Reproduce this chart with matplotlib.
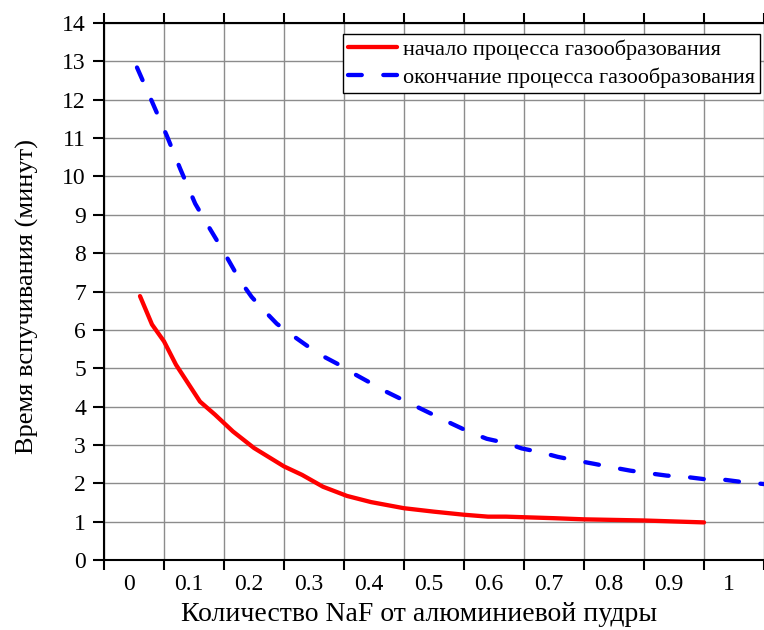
import numpy as np
import matplotlib
matplotlib.use('Agg')
import matplotlib.pyplot as plt

plt.rcParams['font.family'] = ['Liberation Serif', 'DejaVu Serif']

# NaF amount (fraction of aluminium powder) vs. foaming time, minutes
start_x = [0.01, 0.03, 0.05, 0.07, 0.09, 0.11, 0.135, 0.165, 0.2, 0.25, 0.28,
           0.315, 0.355, 0.395, 0.45, 0.5, 0.55, 0.59, 0.62, 0.7, 0.75, 0.85, 0.95]
start_y = [6.88, 6.14, 5.70, 5.09, 4.61, 4.13, 3.79, 3.35, 2.92, 2.44, 2.22,
           1.91, 1.67, 1.51, 1.35, 1.26, 1.18, 1.13, 1.13, 1.09, 1.06, 1.03, 0.98]

end_x = [0.005, 0.03, 0.055, 0.077, 0.102, 0.124, 0.149, 0.177, 0.196, 0.214,
         0.238, 0.26, 0.288, 0.313, 0.342, 0.366, 0.395, 0.42, 0.45, 0.476,
         0.505, 0.53, 0.56, 0.588, 0.62, 0.646, 0.68, 0.706, 0.738, 0.766,
         0.799, 0.827, 0.859, 0.888, 0.918, 0.949, 0.98, 1.01, 1.05]
end_y = [12.84, 11.95, 11.05, 10.2, 9.29, 8.7, 8.05, 7.28, 6.86, 6.55,
         6.16, 5.9, 5.59, 5.33, 5.09, 4.86, 4.61, 4.39, 4.16, 3.96,
         3.74, 3.55, 3.33, 3.16, 3.05, 2.91, 2.8, 2.69, 2.59, 2.51,
         2.41, 2.33, 2.26, 2.2, 2.17, 2.11, 2.1, 2.04, 1.98]

x_labels = ['0', '0.1', '0.2', '0.3', '0.4', '0.5', '0.6', '0.7', '0.8', '0.9', '1']
label_pos = [0.1 * i - 0.008 for i in range(len(x_labels))]
bin_edges = [-0.05 + 0.1 * i for i in range(len(x_labels) + 1)]

fig = plt.figure(figsize=(7.64, 6.3), dpi=100)
ax = fig.add_axes([104 / 764, 70 / 630, 660 / 764, 537 / 630])

ax.plot(start_x, start_y, color='red', lw=3.1, solid_capstyle='round',
        label='начало процесса газообразования')
ax.plot(end_x, end_y, color='blue', lw=3.1, dashes=(3.2, 5.0),
        dash_capstyle='round', label='окончание процесса газообразования')

ax.set_xlim(-0.05, 1.05)
ax.set_ylim(0, 14)
ax.set_xticks(bin_edges)
ax.set_xticklabels([])
ax.set_xticks(label_pos, minor=True)
ax.set_xticklabels(x_labels, minor=True)
ax.set_yticks(range(15))

ax.grid(True, which='major', color='#8c8c8c', lw=1)
ax.set_axisbelow(True)
ax.tick_params(axis='x', which='major', direction='out', length=7, width=1.5,
               top=True, bottom=True)
ax.tick_params(axis='x', which='minor', length=0, pad=10, labelsize=17)
ax.tick_params(axis='y', which='major', direction='out', length=8, width=1.5,
               pad=5, labelsize=17)
for side in ['left', 'bottom', 'top']:
    ax.spines[side].set_linewidth(1.5)
ax.spines['right'].set_visible(False)

ax.set_xlabel('Количество NaF от алюминиевой пудры', fontsize=20)
ax.xaxis.set_label_coords(0.477, -0.078)
ax.set_ylabel('Время вспучивания (минут)', fontsize=19)
ax.yaxis.set_label_coords(-0.098, 0.49)

leg = ax.legend(loc='upper right', bbox_to_anchor=(0.994, 0.979), fontsize=16,
                frameon=True, fancybox=False, framealpha=1, edgecolor='black',
                handlelength=2.2, handletextpad=0.27, borderpad=0.22,
                labelspacing=0.36, borderaxespad=0)
leg.get_frame().set_linewidth(1)

fig.savefig('out.png', dpi=100)
